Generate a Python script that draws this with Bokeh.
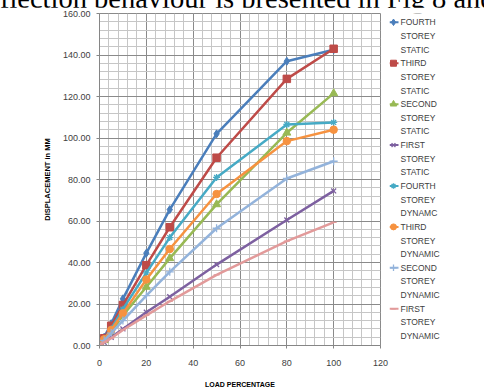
from bokeh.plotting import figure
from bokeh.layouts import column, row
from bokeh.models import Div, SingleIntervalTicker, NumeralTickFormatter, Range1d
from bokeh.core.properties import value
from bokeh.embed import file_html
from bokeh.resources import INLINE

load_pct = [0, 2, 5, 10, 20, 30, 50, 80, 100]

fourth_static = [0, 4.0, 10.5, 22.5, 44.5, 65.5, 102.0, 137.0, 142.5]
third_static = [0, 3.5, 9.5, 19.5, 38.7, 57.0, 90.5, 128.5, 143.0]
second_static = [0, 2.5, 6.5, 14.5, 28.2, 42.0, 68.0, 102.5, 121.5]
first_static = [0, 1.5, 4.0, 8.0, 16.0, 23.5, 39.0, 60.5, 74.5]
fourth_dynamic = [0, 3.0, 8.0, 17.5, 35.0, 52.0, 81.0, 106.5, 107.5]
third_dynamic = [0, 3.0, 7.5, 15.5, 31.8, 46.5, 73.0, 98.5, 104.0]
second_dynamic = [0, 2.5, 6.0, 12.0, 24.0, 35.5, 56.5, 80.5, 88.8]
first_dynamic = [0, 1.5, 3.5, 7.5, 14.5, 21.3, 34.0, 50.3, 59.3]

series_names = [["FOURTH", "STOREY", "STATIC"], ["THIRD", "STOREY", "STATIC"],
                ["SECOND", "STOREY", "STATIC"], ["FIRST", "STOREY", "STATIC"],
                ["FOURTH", "STOREY", "DYNAMC"], ["THIRD", "STOREY", "DYNAMIC"],
                ["SECOND", "STOREY", "DYNAMIC"], ["FIRST", "STOREY", "DYNAMIC"]]
series_values = [fourth_static, third_static, second_static, first_static,
                 fourth_dynamic, third_dynamic, second_dynamic, first_dynamic]
colors = ["#4A7EBB", "#BE4B48", "#98B954", "#7D60A0", "#46AAC5", "#F69240", "#93B3DB", "#E29A9A"]
markers = ["diamond", "square", "triangle", "x", "asterisk", "circle", "cross", "dash"]
msizes = [8, 7.5, 8, 7, 7, 7.5, 8, 6]

caption_text = "deflection behaviour is presented in Fig 8 and"

cap = Div(text=('<div style="position:relative; height:7px; width:484px;">'
                '<span style="position:absolute; top:-20px; left:-27px; line-height:28.5px; '
                'white-space:nowrap; font-family:\'Liberation Serif\'; font-size:28.5px; color:#000;">'
                + caption_text + '</span></div>'),
          width=484, height=7, styles={"overflow": "visible", "margin": "0"})

# ---------------- main chart ----------------
p = figure(width=389, height=383, output_backend="svg", toolbar_location=None,
           x_range=Range1d(0, 120), y_range=Range1d(0, 160),
           min_border_left=99, min_border_right=9, min_border_top=6, min_border_bottom=45)


def draw_marker(fig, xs, ys, m, c, s):
    if m in ("x", "asterisk", "cross", "dash"):
        fig.scatter(xs, ys, marker=m, size=s, line_color=c, line_width=1.3)
    else:
        fig.scatter(xs, ys, marker=m, size=s, fill_color=c, line_color=c)


for vals, c, m, s in zip(series_values, colors, markers, msizes):
    p.line(load_pct, vals, line_color=c, line_width=2.5)
    draw_marker(p, load_pct, vals, m, c, s)

p.xaxis.ticker = SingleIntervalTicker(interval=20, num_minor_ticks=5)
p.yaxis.ticker = SingleIntervalTicker(interval=20, num_minor_ticks=5)
p.yaxis.formatter = NumeralTickFormatter(format="0.00")

for ax in (p.xaxis, p.yaxis):
    ax.axis_line_color = "#868686"
    ax.major_tick_line_color = "#868686"
    ax.major_tick_out = 3
    ax.major_tick_in = 0
    ax.minor_tick_line_color = None
    ax.major_label_text_font = "Liberation Sans"
    ax.major_label_text_font_size = "9px"
    ax.major_label_text_color = "#404040"
    ax.axis_label_text_font = "Liberation Sans"
    ax.axis_label_text_font_style = "bold"
    ax.axis_label_text_color = "#000000"

p.xaxis.axis_label = "LOAD PERCENTAGE"
p.yaxis.axis_label = "DISPLACEMENT in MM"
p.xaxis.axis_label_text_font_size = "7px"
p.yaxis.axis_label_text_font_size = "7.5px"
p.xaxis.major_label_standoff = 10
p.xaxis.axis_label_standoff = 12
p.yaxis.major_label_standoff = 5
p.yaxis.axis_label_standoff = 8

p.xgrid.grid_line_color = "#8a8a8a"
p.ygrid.grid_line_color = "#8a8a8a"
p.xgrid.minor_grid_line_color = "#c6c6c6"
p.ygrid.minor_grid_line_color = "#c6c6c6"
p.outline_line_color = "#8a8a8a"
p.background_fill_color = "white"

# ---------------- legend panel (page pixel coordinates) ----------------
leg = figure(frame_width=95, frame_height=383, output_backend="svg", toolbar_location=None,
             x_range=Range1d(389, 484), y_range=Range1d(390, 7),
             min_border_left=0, min_border_right=0, min_border_top=0, min_border_bottom=0,
             x_axis_location=None, y_axis_location=None)
leg.grid.visible = False
leg.outline_line_color = None
leg.title.visible = False

line_h = 13.64
first_y = 15.8
txt_x, txt_y, txt = [], [], []
for i, (name, c, m, s) in enumerate(zip(series_names, colors, markers, msizes)):
    y0 = first_y + i * 3 * line_h
    leg.segment(x0=[389], y0=[y0], x1=[398], y1=[y0], line_color=c, line_width=2)
    draw_marker(leg, [393], [y0], m, c, s - 1.5)
    for k, word in enumerate(name):
        txt_x.append(400)
        txt_y.append(y0 + k * line_h)
        txt.append(word)
leg.text(x=txt_x, y=txt_y, text=txt, text_font=value("Liberation Sans"), text_font_size="8.5px",
         text_color="#404040", text_baseline="middle", text_align="left")

layout = column(cap, row(p, leg, spacing=0), spacing=0)
open("out.html", "w").write(file_html(layout, INLINE))
